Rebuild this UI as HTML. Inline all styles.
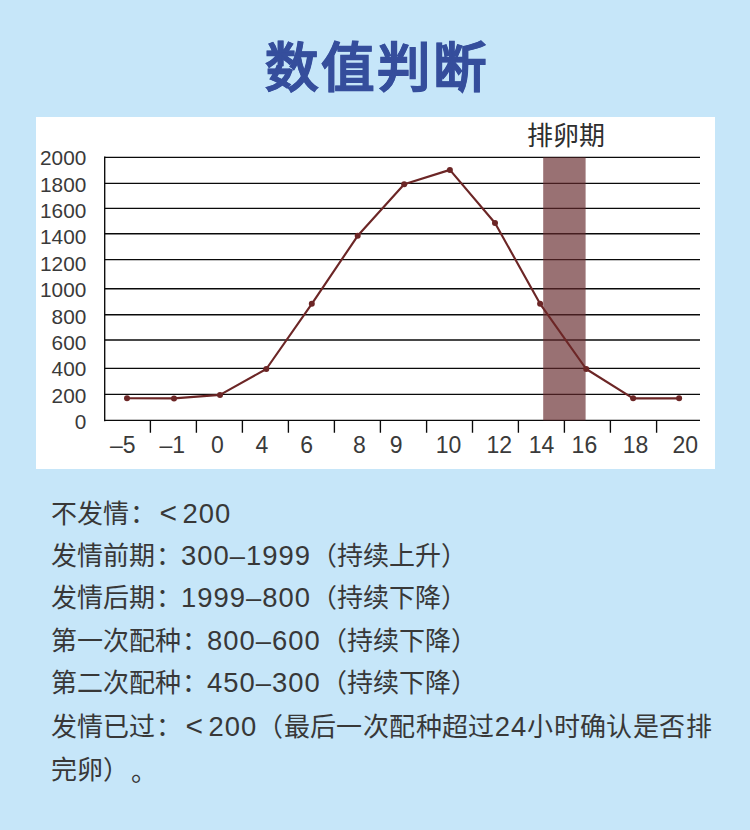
<!DOCTYPE html>
<html lang="zh-CN">
<head>
<meta charset="utf-8">
<style>
html,body{margin:0;padding:0;}
body{width:750px;height:830px;background:#c6e6f9;position:relative;overflow:hidden;font-family:"Liberation Sans",sans-serif;color:#1a1a1a;}
.title{position:absolute;left:0;width:750px;top:28.5px;text-align:center;font-size:53.5px;font-weight:bold;color:#354e9c;line-height:80px;letter-spacing:3px;text-indent:3px;-webkit-text-stroke:0.6px #354e9c;}
.panel{position:absolute;left:36px;top:117px;width:679px;height:352px;background:#fff;}
svg{position:absolute;left:0;top:0;}
.n{font-size:27.4px;letter-spacing:1px;}
.lt{display:inline-block;width:27.5px;text-align:center;font-size:30px;text-indent:-1px;}
.co{position:relative;left:1px;}
.ln{text-spacing-trim:space-all;position:absolute;left:51px;font-size:26px;line-height:42px;white-space:nowrap;color:#383838;}
</style>
</head>
<body>
<div class="title">数值判断</div>
<div class="panel"></div>
<svg width="750" height="830" viewBox="0 0 750 830">
<g stroke="#0a0a0a" stroke-width="1.35" fill="none">
<line x1="104.7" y1="157.3" x2="700" y2="157.3"/>
<line x1="104.7" y1="183.3" x2="700" y2="183.3"/>
<line x1="104.7" y1="208.4" x2="700" y2="208.4"/>
<line x1="104.7" y1="233.7" x2="700" y2="233.7"/>
<line x1="104.7" y1="259.6" x2="700" y2="259.6"/>
<line x1="104.7" y1="288.7" x2="700" y2="288.7"/>
<line x1="104.7" y1="314.7" x2="700" y2="314.7"/>
<line x1="104.7" y1="340" x2="700" y2="340"/>
<line x1="104.7" y1="368.4" x2="700" y2="368.4"/>
<line x1="104.7" y1="394.3" x2="700" y2="394.3"/>
<line x1="104.7" y1="420.4" x2="700" y2="420.4"/>
<line x1="104.7" y1="156.5" x2="104.7" y2="421.2"/>
<path d="M150.4 420.4V432.7M196.4 420.4V432.7M242.4 420.4V432.7M288.4 420.4V432.7M334.4 420.4V432.7M380.4 420.4V432.7M426.6 420.4V432.7M472.5 420.4V432.7M518.4 420.4V432.7M564.4 420.4V432.7M610.4 420.4V432.7M656.6 420.4V432.7"/>
</g>
<rect x="543.2" y="157.3" width="42.4" height="263.1" fill="#64282a" fill-opacity="0.66"/>
<polyline fill="none" stroke="#6c2626" stroke-width="2.15" stroke-linejoin="round" points="127,398.2 174,398.4 220,394.9 266.3,369 311.8,303.8 357.7,235.8 404.2,184.2 449.9,169.9 495,223 540.1,303.8 586.2,369 633.1,398.3 679.1,398.3"/>
<g fill="#6c2626">
<circle cx="127" cy="398.2" r="3"/><circle cx="174" cy="398.4" r="3"/><circle cx="220" cy="394.9" r="3"/><circle cx="266.3" cy="369" r="3"/><circle cx="311.8" cy="303.8" r="3"/><circle cx="357.7" cy="235.8" r="3"/><circle cx="404.2" cy="184.2" r="3"/><circle cx="449.9" cy="169.9" r="3"/><circle cx="495" cy="223" r="3"/><circle cx="540.1" cy="303.8" r="3"/><circle cx="586.2" cy="369" r="3"/><circle cx="633.1" cy="398.3" r="3"/><circle cx="679.1" cy="398.3" r="3"/>
</g>
<g font-family="Liberation Sans, sans-serif" font-size="20.8" fill="#3a3a3a" text-anchor="end">
<text x="86.3" y="165.1">2000</text>
<text x="86.3" y="191.5">1800</text>
<text x="86.3" y="217.9">1600</text>
<text x="86.3" y="244.3">1400</text>
<text x="86.3" y="270.7">1200</text>
<text x="86.3" y="297.1">1000</text>
<text x="86.3" y="323.5">800</text>
<text x="86.3" y="349.9">600</text>
<text x="86.3" y="376.3">400</text>
<text x="86.3" y="402.7">200</text>
<text x="86.3" y="429.1">0</text>
</g>
<g font-family="Liberation Sans, sans-serif" font-size="23" fill="#3a3a3a" text-anchor="middle">
<text x="122.8" y="453.2">–5</text>
<text x="172.2" y="453.2">–1</text>
<text x="217.3" y="453.2">0</text>
<text x="262" y="453.2">4</text>
<text x="306.7" y="453.2">6</text>
<text x="359.3" y="453.2">8</text>
<text x="396.2" y="453.2">9</text>
<text x="448.5" y="453.2">10</text>
<text x="499.3" y="453.2">12</text>
<text x="541.6" y="453.2">14</text>
<text x="584.4" y="453.2">16</text>
<text x="635.6" y="453.2">18</text>
<text x="685.2" y="453.2">20</text>
</g>
<text x="527" y="144.8" font-family="Liberation Sans, sans-serif" font-size="26" fill="#2e2e2e">排卵期</text>
</svg>
<div class="ln" style="top:492px">不发情<span class="co">：</span><span class="lt">&lt;</span><span class="n">200</span></div>
<div class="ln" style="top:534.5px">发情前期<span class="co">：</span><span class="n">300–1999</span>（持续上升）</div>
<div class="ln" style="top:577px">发情后期<span class="co">：</span><span class="n">1999–800</span>（持续下降）</div>
<div class="ln" style="top:619.6px">第一次配种<span class="co">：</span><span class="n">800–600</span>（持续下降）</div>
<div class="ln" style="top:662px">第二次配种<span class="co">：</span><span class="n">450–300</span>（持续下降）</div>
<div class="ln" style="top:704.7px">发情已过<span class="co">：</span><span class="lt">&lt;</span><span class="n">200</span><span style="letter-spacing:0.4px">（最后一次配种超过<span class="n">24</span>小时确认是否排</span></div>
<div class="ln" style="top:748.8px">完卵）<span style="position:relative;left:2px;top:2px">。</span></div>
</body>
</html>
